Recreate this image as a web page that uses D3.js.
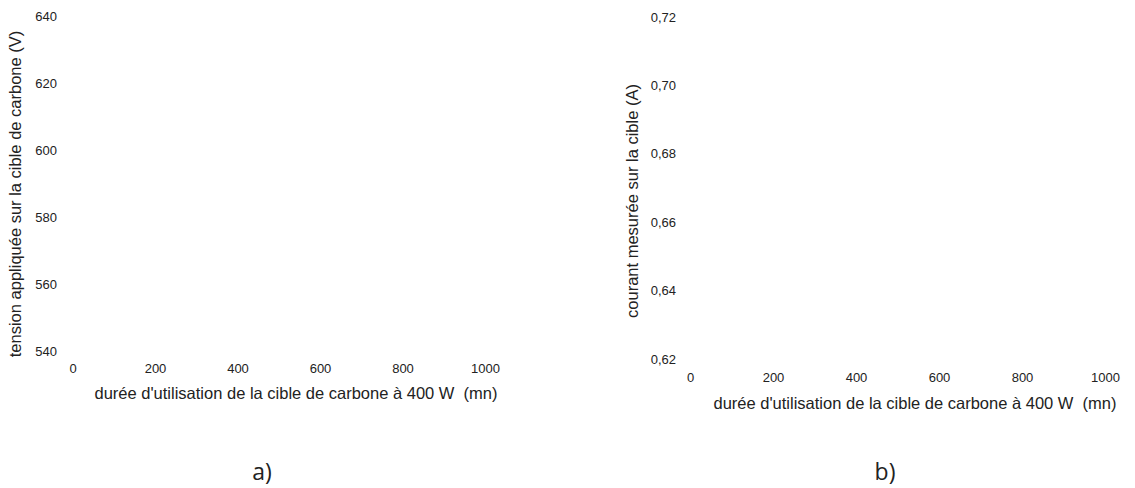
<!DOCTYPE html>
<html>
<head>
<meta charset="utf-8">
<script src="https://cdn.jsdelivr.net/npm/d3@7"></script>
<style>
  html, body { margin: 0; padding: 0; background: #fff; }
  svg { display: block; }
  .tick text { font-family: "Liberation Sans", Arial, sans-serif; font-size: 13px; fill: #222; }
  .title { font-family: "Liberation Sans", Arial, sans-serif; font-size: 16.5px; fill: #222; white-space: pre; }
  .panel { font-family: "Open Sans", sans-serif; font-size: 23px; fill: #222; }
</style>
</head>
<body>
<svg id="chart" width="1135" height="488"></svg>
<script>
// ---- data (the reference shows empty plot areas: no series marks) ----
const xTicks = [0, 200, 400, 600, 800, 1000];
const tensionTicks = [540, 560, 580, 600, 620, 640];
const courantTicks = [0.62, 0.64, 0.66, 0.68, 0.70, 0.72];
const tensionSeries = [];   // no visible points in the reference
const courantSeries = [];   // no visible points in the reference
const xTitle = "durée d'utilisation de la cible de carbone à 400 W  (mn)";
const yTitleA = "tension appliquée sur la cible de carbone (V)";
const yTitleB = "courant mesurée sur la cible (A)";
const panelLabels = ["a)", "b)"];

const svg = d3.select("#chart");
const frFormat = d => d3.format(".2f")(d).replace(".", ",");

function panel(cfg) {
  const x = d3.scaleLinear().domain([0, 1000]).range([cfg.x0, cfg.x1]);
  const y = d3.scaleLinear().domain(cfg.yDomain).range([cfg.yBottom, cfg.yTop]);

  const gx = svg.append("g").attr("transform", `translate(0,${cfg.xAxisY})`)
    .call(d3.axisBottom(x).tickValues(xTicks).tickSize(0).tickPadding(0).tickFormat(d3.format("d")));
  gx.select(".domain").remove();
  gx.selectAll("text").attr("dy", "0.32em").attr("y", 0);

  const gy = svg.append("g").attr("transform", `translate(${cfg.yAxisX},0)`)
    .call(d3.axisLeft(y).tickValues(cfg.yTicks).tickSize(0).tickPadding(0).tickFormat(cfg.fmt));
  gy.select(".domain").remove();

  // series (empty in the reference)
  svg.append("g").selectAll("circle").data(cfg.series).join("circle")
    .attr("cx", d => x(d[0])).attr("cy", d => y(d[1])).attr("r", 3).attr("fill", "#000");

  svg.append("text").attr("class", "title").attr("xml:space", "preserve")
    .attr("x", cfg.titleX).attr("y", cfg.titleY).attr("text-anchor", "middle")
    .attr("dominant-baseline", "middle").text(xTitle);

  svg.append("text").attr("class", "title")
    .attr("transform", `translate(${cfg.yTitleX},${cfg.yTitleY}) rotate(-90)`)
    .attr("text-anchor", "middle").attr("dominant-baseline", "middle").text(cfg.yTitle);

  svg.append("text").attr("class", "panel")
    .attr("x", cfg.panelX).attr("y", cfg.panelY).attr("text-anchor", "middle")
    .text(cfg.panel);
}

panel({
  x0: 72.5, x1: 485, xAxisY: 369,
  yDomain: [540, 640], yBottom: 351, yTop: 16, yAxisX: 57,
  yTicks: tensionTicks, fmt: d3.format("d"),
  series: tensionSeries,
  titleX: 296, titleY: 395, yTitle: yTitleA, yTitleX: 17, yTitleY: 194,
  panel: panelLabels[0], panelX: 262, panelY: 480
});

panel({
  x0: 690, x1: 1105, xAxisY: 378,
  yDomain: [0.62, 0.72], yBottom: 359, yTop: 17, yAxisX: 676,
  yTicks: courantTicks, fmt: frFormat,
  series: courantSeries,
  titleX: 915, titleY: 405, yTitle: yTitleB, yTitleX: 634, yTitleY: 201,
  panel: panelLabels[1], panelX: 885, panelY: 480
});
</script>
</body>
</html>
